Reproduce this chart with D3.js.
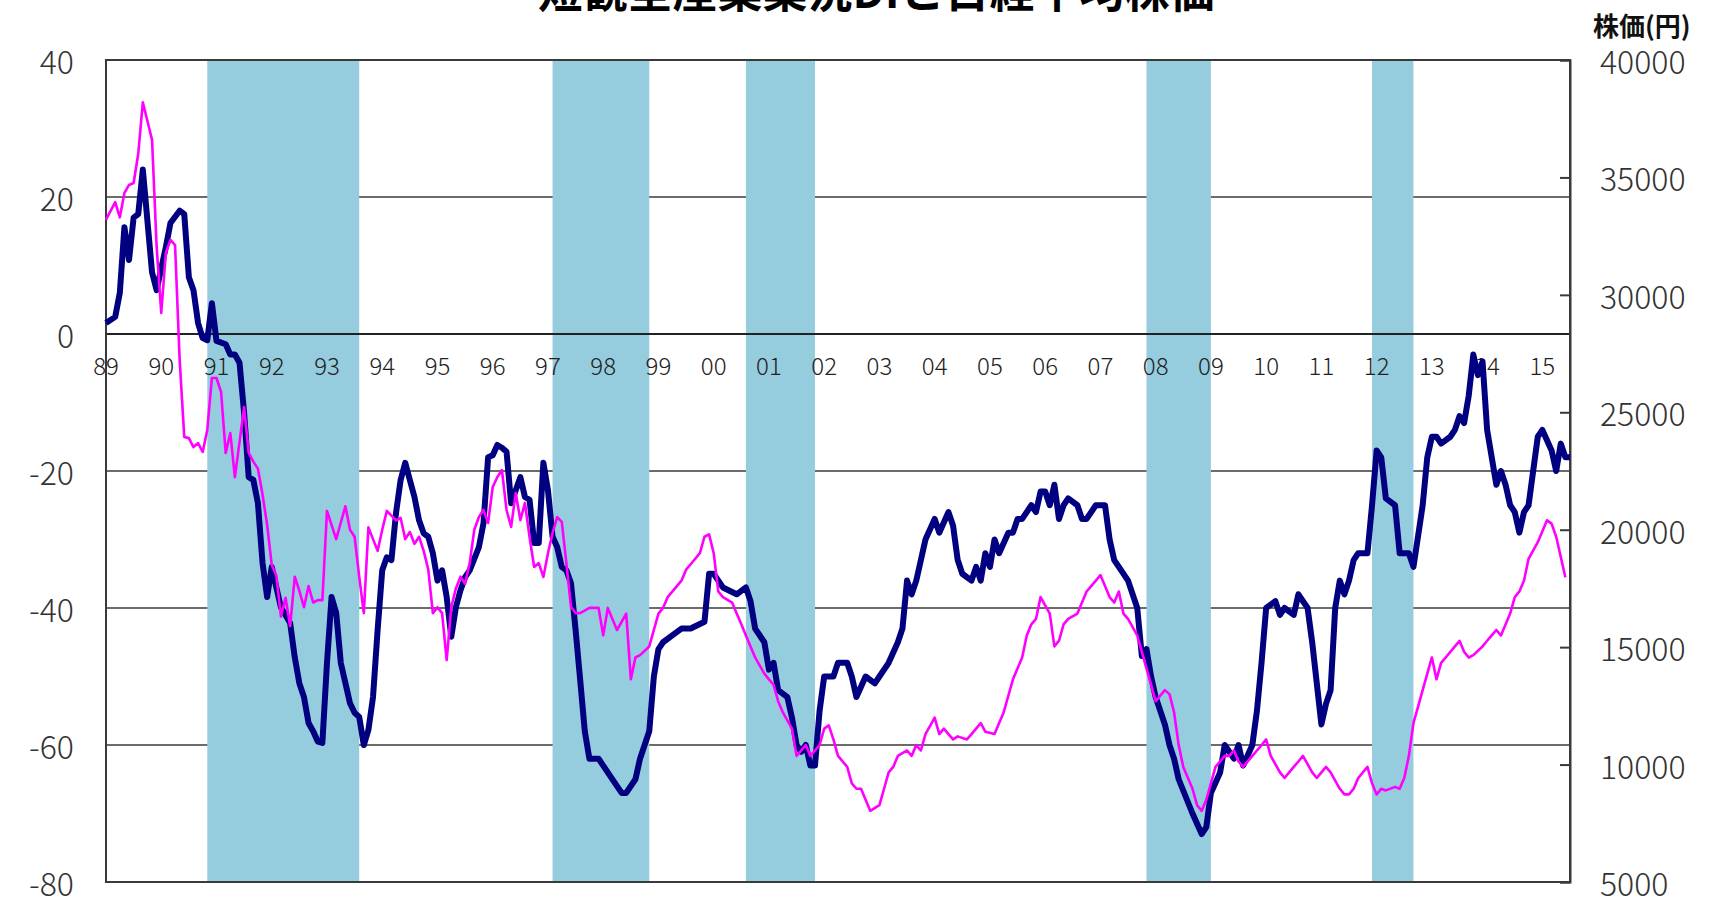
<!DOCTYPE html>
<html>
<head>
<meta charset="utf-8">
<script src="https://d3js.org/d3.v7.min.js"></script>
<style>
  body { margin: 0; background: #fff; }
  text { font-family: "Noto Sans CJK JP", "Noto Sans", sans-serif; }
</style>
</head>
<body>
<div id="chart"></div>
<script>
// title (top of it is cut off in the original)
var titleText = "短観全産業業況DIと日経平均株価";
var rightAxisTitle = "株価(円)";

// business conditions DI, left axis
var diData = [
  ["1989-04", 1.6], ["1989-06", 2.5], ["1989-07", 6], ["1989-08", 15.6], ["1989-09", 10.8],
  ["1989-10", 17], ["1989-11", 17.5], ["1989-12", 24], ["1990-02", 9], ["1990-03", 6.4],
  ["1990-05", 12.7], ["1990-06", 16.2], ["1990-08", 18], ["1990-09", 17.5], ["1990-10", 8.3],
  ["1990-11", 6.4], ["1990-12", 1.6], ["1991-01", -0.6], ["1991-02", -0.9], ["1991-03", 4.5],
  ["1991-04", -1], ["1991-06", -1.5], ["1991-07", -3], ["1991-08", -3], ["1991-09", -4.2],
  ["1991-10", -11.5], ["1991-11", -20.9], ["1991-12", -21.3], ["1992-01", -24.7], ["1992-02", -33.4],
  ["1992-03", -38.4], ["1992-04", -34], ["1992-05", -37], ["1992-06", -39.9], ["1992-08", -42.2],
  ["1992-09", -47.2], ["1992-10", -51], ["1992-11", -53], ["1992-12", -56.8], ["1993-01", -58],
  ["1993-02", -59.5], ["1993-03", -59.7], ["1993-04", -48], ["1993-05", -38.4], ["1993-06", -40.7],
  ["1993-07", -48], ["1993-09", -53.9], ["1993-10", -55.3], ["1993-11", -55.9], ["1993-12", -60],
  ["1994-01", -57.8], ["1994-02", -53], ["1994-03", -43.2], ["1994-04", -34.5], ["1994-05", -32.6],
  ["1994-06", -33], ["1994-07", -26.1], ["1994-08", -21.3], ["1994-09", -18.8], ["1994-10", -21.3],
  ["1994-11", -23.8], ["1994-12", -27.2], ["1995-01", -29.1], ["1995-02", -29.6], ["1995-03", -32],
  ["1995-04", -36], ["1995-05", -34.5], ["1995-06", -38.4], ["1995-07", -44.2], ["1995-08", -39.9],
  ["1995-09", -37.4], ["1995-10", -35.5], ["1995-11", -34.5], ["1996-01", -31.1], ["1996-02", -27.6],
  ["1996-03", -18], ["1996-04", -17.7], ["1996-05", -16.2], ["1996-06", -16.6], ["1996-07", -17.2],
  ["1996-08", -24.7], ["1996-09", -22.8], ["1996-10", -20.9], ["1996-11", -23.8], ["1996-12", -24.2],
  ["1997-01", -30.5], ["1997-02", -30.5], ["1997-03", -18.8], ["1997-04", -22.8], ["1997-05", -29.6],
  ["1997-06", -31.1], ["1997-07", -34], ["1997-08", -34.5], ["1997-09", -36.4], ["1997-10", -43.2],
  ["1997-11", -50.5], ["1997-12", -58], ["1998-01", -62], ["1998-03", -62], ["1998-04", -63],
  ["1998-07", -66], ["1998-08", -67], ["1998-09", -67], ["1998-11", -65], ["1998-12", -62],
  ["1999-02", -58], ["1999-03", -50], ["1999-04", -46], ["1999-05", -45], ["1999-07", -44],
  ["1999-09", -43], ["1999-11", -43], ["2000-02", -42], ["2000-03", -35], ["2000-04", -35],
  ["2000-05", -36], ["2000-06", -37], ["2000-09", -38], ["2000-11", -37], ["2000-12", -39],
  ["2001-01", -43], ["2001-03", -45], ["2001-04", -49], ["2001-05", -48], ["2001-06", -52],
  ["2001-08", -53], ["2001-09", -56], ["2001-10", -60], ["2001-11", -61], ["2001-12", -60],
  ["2002-01", -63], ["2002-02", -63], ["2002-03", -55], ["2002-04", -50], ["2002-06", -50],
  ["2002-07", -48], ["2002-09", -48], ["2002-10", -50], ["2002-11", -53], ["2003-01", -50],
  ["2003-03", -51], ["2003-04", -50], ["2003-06", -48], ["2003-08", -45], ["2003-09", -43],
  ["2003-10", -36], ["2003-11", -38], ["2003-12", -36], ["2004-01", -33], ["2004-02", -30],
  ["2004-04", -27], ["2004-05", -29], ["2004-07", -26], ["2004-08", -28], ["2004-09", -33],
  ["2004-10", -35], ["2004-12", -36], ["2005-01", -34], ["2005-02", -36], ["2005-03", -32],
  ["2005-04", -34], ["2005-05", -30], ["2005-06", -32], ["2005-08", -29], ["2005-09", -29],
  ["2005-10", -27], ["2005-11", -27], ["2006-01", -25], ["2006-02", -26], ["2006-03", -23],
  ["2006-04", -23], ["2006-05", -25], ["2006-06", -22], ["2006-07", -27], ["2006-08", -25],
  ["2006-09", -24], ["2006-11", -25], ["2006-12", -27], ["2007-01", -27], ["2007-02", -26],
  ["2007-03", -25], ["2007-05", -25], ["2007-06", -30], ["2007-07", -33], ["2007-08", -34],
  ["2007-10", -36], ["2007-12", -40], ["2008-01", -47], ["2008-02", -46], ["2008-03", -50],
  ["2008-04", -53], ["2008-06", -57], ["2008-07", -60], ["2008-08", -62], ["2008-09", -65],
  ["2008-12", -70], ["2009-02", -73], ["2009-03", -72], ["2009-04", -67], ["2009-06", -64],
  ["2009-07", -60], ["2009-09", -62], ["2009-10", -60], ["2009-11", -63], ["2010-01", -60],
  ["2010-02", -55], ["2010-03", -48], ["2010-04", -40], ["2010-06", -39], ["2010-07", -41],
  ["2010-08", -40], ["2010-10", -41], ["2010-11", -38], ["2011-01", -40], ["2011-02", -45],
  ["2011-04", -57], ["2011-05", -54], ["2011-06", -52], ["2011-07", -40], ["2011-08", -36],
  ["2011-09", -38], ["2011-10", -36], ["2011-11", -33], ["2011-12", -32], ["2012-02", -32],
  ["2012-03", -25], ["2012-04", -17], ["2012-05", -18], ["2012-06", -24], ["2012-08", -25],
  ["2012-09", -32], ["2012-11", -32], ["2012-12", -34], ["2013-02", -25], ["2013-03", -18],
  ["2013-04", -15], ["2013-05", -15], ["2013-06", -16], ["2013-08", -15], ["2013-09", -14],
  ["2013-10", -12], ["2013-11", -13], ["2013-12", -9], ["2014-01", -3], ["2014-02", -6],
  ["2014-03", -4], ["2014-04", -14], ["2014-06", -22], ["2014-07", -20], ["2014-08", -22],
  ["2014-09", -25], ["2014-10", -26], ["2014-11", -29], ["2014-12", -26], ["2015-01", -25],
  ["2015-03", -15], ["2015-04", -14], ["2015-06", -17], ["2015-07", -20], ["2015-08", -16],
  ["2015-09", -18], ["2015-10", -18]
];

// Nikkei average (yen), right axis
var nikkeiData = [
  ["1989-04", 33200], ["1989-06", 33950], ["1989-07", 33300], ["1989-08", 34340], ["1989-09", 34680],
  ["1989-10", 34760], ["1989-11", 36000], ["1989-12", 38200], ["1990-02", 36600], ["1990-03", 32040],
  ["1990-04", 29230], ["1990-05", 31780], ["1990-06", 32340], ["1990-07", 32120], ["1990-08", 27230],
  ["1990-09", 23950], ["1990-10", 23900], ["1990-11", 23520], ["1990-12", 23690], ["1991-01", 23310],
  ["1991-02", 24250], ["1991-03", 26460], ["1991-04", 26460], ["1991-05", 25860], ["1991-06", 23270],
  ["1991-07", 24120], ["1991-08", 22240], ["1991-10", 25220], ["1991-11", 23270], ["1991-12", 22900],
  ["1992-01", 22600], ["1992-02", 21500], ["1992-03", 20200], ["1992-04", 18500], ["1992-05", 18050],
  ["1992-06", 16300], ["1992-07", 17100], ["1992-08", 15900], ["1992-09", 18000], ["1992-10", 17400],
  ["1992-11", 16700], ["1992-12", 17600], ["1993-01", 16900], ["1993-02", 17000], ["1993-03", 17000],
  ["1993-04", 20800], ["1993-05", 20200], ["1993-06", 19600], ["1993-07", 20300], ["1993-08", 21000],
  ["1993-09", 20000], ["1993-10", 19700], ["1993-11", 18000], ["1993-12", 16450], ["1994-01", 20100],
  ["1994-02", 19600], ["1994-03", 19100], ["1994-04", 20000], ["1994-05", 20800], ["1994-06", 20600],
  ["1994-07", 20400], ["1994-08", 20500], ["1994-09", 19600], ["1994-10", 19900], ["1994-11", 19400],
  ["1994-12", 19700], ["1995-01", 19100], ["1995-02", 18300], ["1995-03", 16450], ["1995-04", 16700],
  ["1995-05", 16450], ["1995-06", 14450], ["1995-07", 16700], ["1995-08", 17500], ["1995-09", 18000],
  ["1995-10", 17700], ["1995-11", 18580], ["1995-12", 20000], ["1996-01", 20540], ["1996-02", 20840],
  ["1996-03", 20290], ["1996-04", 21820], ["1996-05", 22240], ["1996-06", 22540], ["1996-07", 20840],
  ["1996-08", 20120], ["1996-09", 21560], ["1996-10", 20410], ["1996-11", 21140], ["1996-12", 19690],
  ["1997-01", 18410], ["1997-02", 18580], ["1997-03", 17990], ["1997-04", 19000], ["1997-05", 19860],
  ["1997-06", 20540], ["1997-07", 20330], ["1997-08", 18580], ["1997-09", 16710], ["1997-10", 16450],
  ["1997-11", 16450], ["1998-01", 16670], ["1998-03", 16670], ["1998-04", 15500], ["1998-05", 16670],
  ["1998-07", 15730], ["1998-09", 16430], ["1998-10", 13630], ["1998-11", 14560], ["1998-12", 14660],
  ["1999-02", 15030], ["1999-04", 16430], ["1999-05", 16670], ["1999-06", 17130], ["1999-08", 17600],
  ["1999-09", 17830], ["1999-10", 18300], ["1999-11", 18530], ["2000-01", 19000], ["2000-02", 19700],
  ["2000-03", 19800], ["2000-04", 19000], ["2000-05", 17370], ["2000-06", 17130], ["2000-08", 16900],
  ["2000-09", 16430], ["2000-10", 15970], ["2000-11", 15500], ["2000-12", 15030], ["2001-01", 14560],
  ["2001-03", 13870], ["2001-04", 13630], ["2001-05", 13400], ["2001-06", 12700], ["2001-07", 12230],
  ["2001-09", 11530], ["2001-10", 10370], ["2001-11", 10600], ["2001-12", 10830], ["2002-01", 10370],
  ["2002-03", 10830], ["2002-04", 11530], ["2002-05", 11670], ["2002-06", 11070], ["2002-07", 10370],
  ["2002-09", 9900], ["2002-10", 9200], ["2002-11", 8970], ["2002-12", 8970], ["2003-01", 8500],
  ["2003-02", 8030], ["2003-04", 8270], ["2003-05", 8970], ["2003-06", 9670], ["2003-07", 9900],
  ["2003-08", 10370], ["2003-10", 10600], ["2003-11", 10370], ["2003-12", 10830], ["2004-01", 10600],
  ["2004-02", 11300], ["2004-04", 12000], ["2004-05", 11300], ["2004-06", 11530], ["2004-07", 11300],
  ["2004-08", 11070], ["2004-09", 11200], ["2004-11", 11070], ["2004-12", 11300], ["2005-01", 11530],
  ["2005-02", 11770], ["2005-03", 11400], ["2005-05", 11300], ["2005-06", 11770], ["2005-07", 12230],
  ["2005-08", 12930], ["2005-09", 13630], ["2005-11", 14560], ["2005-12", 15500], ["2006-01", 15970],
  ["2006-02", 16200], ["2006-03", 17130], ["2006-05", 16430], ["2006-06", 15030], ["2006-07", 15270],
  ["2006-08", 15970], ["2006-09", 16200], ["2006-11", 16430], ["2006-12", 16900], ["2007-01", 17370],
  ["2007-02", 17600], ["2007-03", 17830], ["2007-04", 18070], ["2007-06", 17130], ["2007-07", 16900],
  ["2007-08", 17370], ["2007-09", 16430], ["2007-10", 16200], ["2007-12", 15500], ["2008-01", 14800],
  ["2008-02", 14100], ["2008-03", 13400], ["2008-04", 12700], ["2008-06", 13170], ["2008-07", 13000],
  ["2008-08", 12230], ["2008-09", 10830], ["2008-10", 9900], ["2008-12", 8970], ["2009-01", 8270],
  ["2009-02", 8030], ["2009-03", 8500], ["2009-04", 9200], ["2009-05", 9900], ["2009-07", 10370],
  ["2009-08", 10370], ["2009-09", 10600], ["2009-10", 10130], ["2009-11", 9900], ["2010-01", 10370],
  ["2010-02", 10600], ["2010-03", 10830], ["2010-04", 11070], ["2010-05", 10370], ["2010-07", 9670],
  ["2010-08", 9430], ["2010-09", 9670], ["2010-10", 9900], ["2010-11", 10130], ["2010-12", 10370],
  ["2011-02", 9670], ["2011-03", 9430], ["2011-04", 9670], ["2011-05", 9900], ["2011-06", 9670],
  ["2011-08", 8970], ["2011-09", 8730], ["2011-10", 8730], ["2011-11", 8970], ["2011-12", 9430],
  ["2012-02", 9900], ["2012-03", 9200], ["2012-04", 8730], ["2012-05", 8970], ["2012-06", 8900],
  ["2012-08", 9050], ["2012-09", 8970], ["2012-10", 9430], ["2012-11", 10370], ["2012-12", 11770],
  ["2013-01", 12470], ["2013-03", 13870], ["2013-04", 14560], ["2013-05", 13630], ["2013-06", 14330],
  ["2013-07", 14560], ["2013-09", 15030], ["2013-10", 15270], ["2013-11", 14800], ["2013-12", 14560],
  ["2014-01", 14660], ["2014-03", 15030], ["2014-04", 15270], ["2014-05", 15500], ["2014-06", 15730],
  ["2014-07", 15500], ["2014-09", 16430], ["2014-10", 17130], ["2014-11", 17370], ["2014-12", 17830],
  ["2015-01", 18760], ["2015-03", 19470], ["2015-04", 19930], ["2015-05", 20400], ["2015-06", 20260],
  ["2015-07", 19700], ["2015-09", 17970]
];

// recessions: peak month, trough month
var recessions = [
  ["1991-02", "1993-10"],
  ["1997-05", "1999-01"],
  ["2000-11", "2002-01"],
  ["2008-02", "2009-03"],
  ["2012-03", "2012-11"]
];

var diTicks = [40, 20, 0, -20, -40, -60, -80];
var yenTicks = [40000, 35000, 30000, 25000, 20000, 15000, 10000, 5000];
var firstYear = 1989, lastYear = 2015;

// chart geometry
var W = 1720, H = 905;
var plot = {left: 106, right: 1570, top: 60, bottom: 882};

// month index counted from the first category (Apr 1989)
function monthIndex(s) {
  var p = s.split("-");
  return (+p[0] - firstYear) * 12 + (+p[1] - 4);
}

var svg = d3.select("#chart")
  .append("svg")
    .attr("width", W)
    .attr("height", H);

svg.append("rect").attr("width", W).attr("height", H).attr("fill", "#fff");

var x = d3.scaleLinear()
  .domain([0, monthIndex("2015-10")])
  .range([plot.left, plot.right]);

var yL = d3.scaleLinear()
  .domain([-80, 40])
  .range([plot.bottom, plot.top]);

var yR = d3.scaleLinear()
  .domain([5000, 40000])
  .range([plot.bottom, plot.top]);

// gridlines
svg.append("g")
  .selectAll("line")
  .data(diTicks.filter(function(d) { return d !== 0; }))
  .join("line")
    .attr("x1", plot.left).attr("x2", plot.right)
    .attr("y1", function(d) { return yL(d); })
    .attr("y2", function(d) { return yL(d); })
    .attr("stroke", "#3a3a3a")
    .attr("stroke-width", 1.6);

// recession bands
svg.append("g")
  .selectAll("rect")
  .data(recessions)
  .join("rect")
    .attr("x", function(d) { return x(monthIndex(d[0])); })
    .attr("width", function(d) { return x(monthIndex(d[1]) + 1) - x(monthIndex(d[0])); })
    .attr("y", plot.top)
    .attr("height", plot.bottom - plot.top)
    .attr("fill", "#96cdde");

// zero line (category axis)
svg.append("line")
  .attr("x1", plot.left).attr("x2", plot.right)
  .attr("y1", yL(0)).attr("y2", yL(0))
  .attr("stroke", "#222")
  .attr("stroke-width", 2);

// plot frame
svg.append("rect")
  .attr("x", plot.left).attr("y", plot.top)
  .attr("width", plot.right - plot.left)
  .attr("height", plot.bottom - plot.top)
  .attr("fill", "none")
  .attr("stroke", "#3a3a3a")
  .attr("stroke-width", 2);

// year labels
var yearIdx = d3.range(0, lastYear - firstYear + 1).map(function(i) { return i * 12; });
svg.append("g")
  .selectAll("text")
  .data(yearIdx)
  .join("text")
    .attr("x", function(d) { return x(d); })
    .attr("y", yL(0) + 30)
    .attr("text-anchor", "middle")
    .attr("dominant-baseline", "central")
    .style("font-size", "24px")
    .style("font-weight", 300)
    .style("fill", "#222")
    .text(function(d) { return d3.format("02")((firstYear + d / 12) % 100); });

// left axis labels
svg.append("g")
  .selectAll("text")
  .data(diTicks)
  .join("text")
    .attr("x", plot.left - 32)
    .attr("y", function(d) { return yL(d); })
    .attr("text-anchor", "end")
    .attr("dominant-baseline", "central")
    .style("font-size", "32px")
    .style("font-weight", 300)
    .style("fill", "#333")
    .text(function(d) { return d; });

// right axis: ticks pointing inside + labels
var rightAxis = d3.axisLeft(yR)
  .tickValues(yenTicks)
  .tickSize(10)
  .tickFormat("");
svg.append("g")
  .attr("transform", "translate(" + plot.right + ",0)")
  .call(rightAxis)
  .call(function(g) {
    g.select(".domain").attr("stroke", "#3a3a3a").attr("stroke-width", 2);
    g.selectAll(".tick line").attr("stroke", "#3a3a3a").attr("stroke-width", 2);
  });

svg.append("g")
  .selectAll("text")
  .data(yenTicks)
  .join("text")
    .attr("x", plot.right + 30)
    .attr("y", function(d) { return yR(d); })
    .attr("dominant-baseline", "central")
    .style("font-size", "32px")
    .style("font-weight", 300)
    .style("fill", "#333")
    .text(function(d) { return d; });

svg.append("text")
  .attr("x", plot.right + 23)
  .attr("y", 24)
  .attr("dominant-baseline", "central")
  .style("font-size", "26px")
  .style("font-weight", "bold")
  .style("fill", "#111")
  .text(rightAxisTitle);

// DI line
svg.append("path")
  .datum(diData)
  .attr("fill", "none")
  .attr("stroke", "#000080")
  .attr("stroke-width", 6)
  .attr("stroke-linejoin", "round")
  .attr("d", d3.line()
    .x(function(d) { return x(monthIndex(d[0])); })
    .y(function(d) { return yL(d[1]); }));

// Nikkei line
svg.append("path")
  .datum(nikkeiData)
  .attr("fill", "none")
  .attr("stroke", "#ff00ff")
  .attr("stroke-width", 2.6)
  .attr("stroke-linejoin", "round")
  .attr("d", d3.line()
    .x(function(d) { return x(monthIndex(d[0])); })
    .y(function(d) { return yR(d[1]); }));

// title, mostly above the visible area
svg.append("text")
  .attr("x", 876)
  .attr("y", 8)
  .attr("text-anchor", "middle")
  .style("font-size", "45px")
  .style("font-weight", "bold")
  .style("fill", "#000")
  .text(titleText);
</script>
</body>
</html>
